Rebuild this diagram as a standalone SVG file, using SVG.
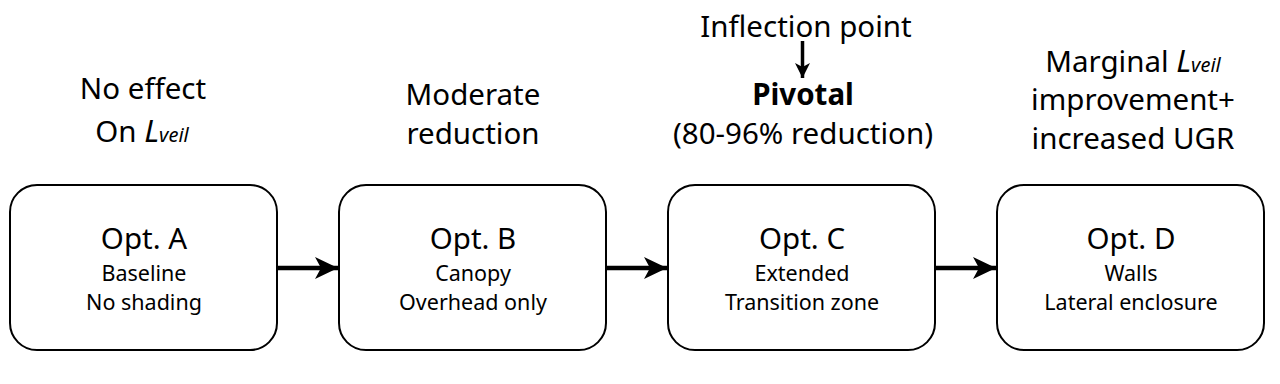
<svg xmlns="http://www.w3.org/2000/svg" width="1280" height="384" viewBox="0 0 1280 384">
<style>
text{font-family:"Noto Sans","Open Sans","Liberation Sans",sans-serif;fill:#000;text-anchor:middle}
.lbl{font-size:29.5px}
.t{font-size:29.5px}
.s{font-size:21.5px}
.box{fill:#fff;stroke:#000;stroke-width:2}
.conn{stroke:#000;stroke-width:4.5;fill:none}
.it{font-style:italic;font-size:31px}
.sub{font-size:20px;font-style:italic}
</style>
<defs>
<marker id="ah" markerUnits="userSpaceOnUse" markerWidth="28" markerHeight="26" refX="25" refY="13" orient="auto">
<path d="M2,2 L25,13 L2,24 L8,13 Z" fill="#000"/>
</marker>
<marker id="ah2" markerUnits="userSpaceOnUse" markerWidth="20" markerHeight="20" refX="16" refY="10" orient="auto">
<path d="M1,2.5 L16,10 L1,17.5 L5,10 Z" fill="#000"/>
</marker>
</defs>
<rect width="1280" height="384" fill="#fff"/>
<g id="connectors">
<line class="conn" x1="277" y1="268" x2="338" y2="268" marker-end="url(#ah)"/>
<line class="conn" x1="606" y1="268" x2="667" y2="268" marker-end="url(#ah)"/>
<line class="conn" x1="935" y1="268" x2="996" y2="268" marker-end="url(#ah)"/>
<line stroke="#000" stroke-width="3.5" x1="802.5" y1="41" x2="802.5" y2="78" marker-end="url(#ah2)"/>
</g>
<g id="labelA">
<text class="lbl" x="143" y="99">No effect</text>
<text class="lbl" x="142" y="142">On <tspan class="it">L</tspan><tspan class="sub">veil</tspan></text>
</g>
<g id="labelB">
<text class="lbl" x="473" y="105">Moderate</text>
<text class="lbl" x="473" y="144">reduction</text>
</g>
<g id="labelC">
<text class="lbl" x="806" y="37">Inflection point</text>
<text class="lbl" x="803" y="105" font-weight="bold">Pivotal</text>
<text class="lbl" x="803" y="144">(80-96% reduction)</text>
</g>
<g id="labelD">
<text class="lbl" x="1133" y="72">Marginal <tspan class="it">L</tspan><tspan class="sub">veil</tspan></text>
<text class="lbl" x="1133" y="110">improvement+</text>
<text class="lbl" x="1133" y="149">increased UGR</text>
</g>
<g id="optA">
<rect class="box" x="10" y="185" width="267" height="165" rx="27"/>
<text class="t" x="144" y="249">Opt. A</text>
<text class="s" x="144" y="281">Baseline</text>
<text class="s" x="144" y="310">No shading</text>
</g>
<g id="optB">
<rect class="box" x="339" y="185" width="267" height="165" rx="27"/>
<text class="t" x="473" y="249">Opt. B</text>
<text class="s" x="473" y="281">Canopy</text>
<text class="s" x="473" y="310">Overhead only</text>
</g>
<g id="optC">
<rect class="box" x="668" y="185" width="267" height="165" rx="27"/>
<text class="t" x="802" y="249">Opt. C</text>
<text class="s" x="802" y="281">Extended</text>
<text class="s" x="802" y="310">Transition zone</text>
</g>
<g id="optD">
<rect class="box" x="997" y="185" width="267" height="165" rx="27"/>
<text class="t" x="1131" y="249">Opt. D</text>
<text class="s" x="1131" y="281">Walls</text>
<text class="s" x="1131" y="310">Lateral enclosure</text>
</g>
</svg>
